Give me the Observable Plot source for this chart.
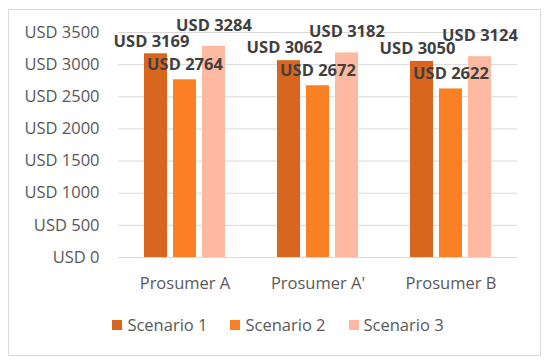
<!DOCTYPE html>
<html>
<head>
<meta charset="utf-8">
<script src="https://cdn.jsdelivr.net/npm/d3@7"></script>
<script src="https://cdn.jsdelivr.net/npm/@observablehq/plot@0.6"></script>
<style>
  html, body { margin: 0; padding: 0; background: #fff; }
  #wrap { position: relative; width: 550px; height: 364px; overflow: hidden; font-family: "Open Sans", sans-serif; }
  #frame { position: absolute; left: 8px; top: 9px; width: 533px; height: 347px; border: 1px solid #d9d9d9; box-sizing: border-box; }
  #chart { position: absolute; left: 0; top: 0; }
  #legend { position: absolute; left: 0; top: 313px; width: 556px; display: flex; justify-content: center; align-items: center; font-size: 16.5px; color: #595959; }
  .item { display: flex; align-items: center; margin: 0 11.5px; }
  .sw { width: 10px; height: 10px; margin-right: 5px; }
</style>
</head>
<body>
<div id="wrap">
  <div id="frame"></div>
  <div id="chart"></div>
  <div id="legend"></div>
</div>
<script>
const categories = ["Prosumer A", "Prosumer A'", "Prosumer B"];
const scenarios = ["Scenario 1", "Scenario 2", "Scenario 3"];
const scenario1 = [3169, 3062, 3050];
const scenario2 = [2764, 2672, 2622];
const scenario3 = [3284, 3182, 3124];
const colors = ["#D9661F", "#FB8023", "#FDB9A1"];
const yTicks = [0, 500, 1000, 1500, 2000, 2500, 3000, 3500];

const series = [scenario1, scenario2, scenario3];
const data = categories.flatMap((c, i) =>
  scenarios.map((s, j) => ({ category: c, scenario: s, value: series[j][i] }))
);

const labelOffsets = [
  { dx: -4.5, dy: -12.5 },
  { dx: 0, dy: -15 },
  { dx: 0, dy: -21 }
];

const labelMarks = scenarios.map((s, j) =>
  Plot.text(data.filter(d => d.scenario === s), {
    fx: "category", x: "scenario", y: "value",
    text: d => "USD " + d.value,
    dx: labelOffsets[j].dx, dy: labelOffsets[j].dy,
    fill: "#404040", fontWeight: "bold", fontSize: 16.5
  })
);

const chart = Plot.plot({
  width: 550,
  height: 305,
  marginLeft: 117,
  marginRight: 33,
  marginTop: 32,
  marginBottom: 48,
  style: { fontFamily: "Open Sans, sans-serif", fontSize: "16.5px", color: "#595959", background: "transparent", overflow: "visible" },
  fx: { domain: categories, padding: 0, label: null, axis: null },
  x: { domain: scenarios, paddingInner: 0.22, paddingOuter: 0.87, axis: null },
  y: { domain: [0, 3500] },
  color: { domain: scenarios, range: colors },
  marks: [
    Plot.gridY(yTicks, { stroke: "#d9d9d9", strokeOpacity: 1 }),
    Plot.axisY(yTicks, { tickSize: 0, tickPadding: 19, tickFormat: d => "USD " + d, fill: "#595959", fontSize: 16.5, label: null }),
    Plot.axisFx({ anchor: "bottom", tickSize: 0, tickPadding: 19.5, label: null, fill: "#595959", fontSize: 16.5 }),
    Plot.barY(data, { fx: "category", x: "scenario", y: "value", fill: "scenario" }),
    Plot.ruleY([0], { stroke: "#d9d9d9" }),
    ...labelMarks
  ]
});
document.getElementById("chart").appendChild(chart);

const legend = document.getElementById("legend");
scenarios.forEach((s, j) => {
  const item = document.createElement("div");
  item.className = "item";
  const sw = document.createElement("div");
  sw.className = "sw";
  sw.style.background = colors[j];
  const t = document.createElement("span");
  t.textContent = s;
  item.appendChild(sw);
  item.appendChild(t);
  legend.appendChild(item);
});
</script>
</body>
</html>
